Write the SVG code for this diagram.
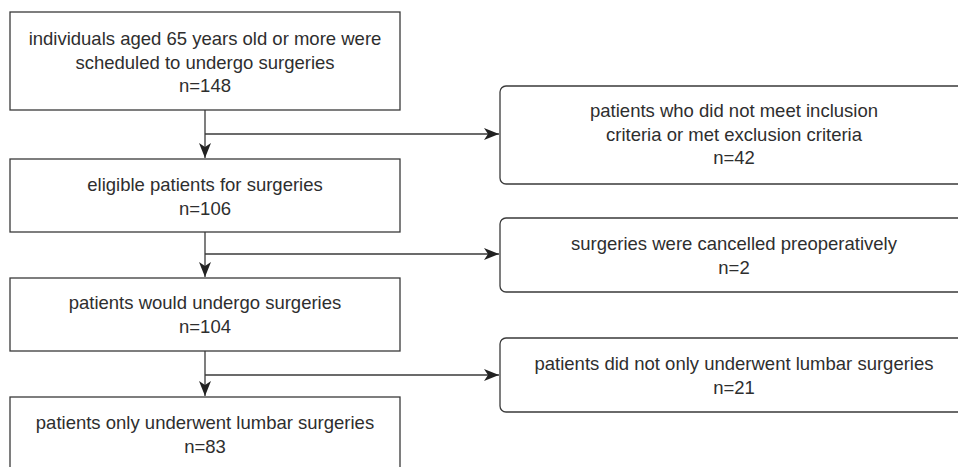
<svg xmlns="http://www.w3.org/2000/svg" width="958" height="467" viewBox="0 0 958 467">
<style>
.box{fill:#fff;stroke:#3a3a3a;stroke-width:1.3}
.t{font-family:"Liberation Sans",Arial,sans-serif;font-size:18.5px;fill:#2e2e2e;text-anchor:middle}
.c{fill:none;stroke:#3a3a3a;stroke-width:1.3}
</style>
<defs>
<marker id="arr" markerUnits="userSpaceOnUse" markerWidth="16" markerHeight="12" refX="15" refY="6" orient="auto">
<path d="M0,0 L15,6 L0,12 L4,6 z" fill="#222"/>
</marker>
</defs>
<rect width="958" height="467" fill="#fff"/>
<g id="connectors">
<path class="c" d="M205,110 V158" marker-end="url(#arr)"/>
<path class="c" d="M205,134 H499" marker-end="url(#arr)"/>
<path class="c" d="M205,232 V277" marker-end="url(#arr)"/>
<path class="c" d="M205,254 H499" marker-end="url(#arr)"/>
<path class="c" d="M205,351 V396" marker-end="url(#arr)"/>
<path class="c" d="M205,375 H499" marker-end="url(#arr)"/>
</g>
<g id="n1">
<rect class="box" x="10" y="12" width="390" height="98"/>
<text class="t" x="205" y="45">individuals aged 65 years old or more were</text>
<text class="t" x="205" y="68.5">scheduled to undergo surgeries</text>
<text class="t" x="205" y="92">n=148</text>
</g>
<g id="n2">
<rect class="box" x="10" y="159" width="390" height="73"/>
<text class="t" x="205" y="191">eligible patients for surgeries</text>
<text class="t" x="205" y="215">n=106</text>
</g>
<g id="n3">
<rect class="box" x="10" y="278" width="390" height="73"/>
<text class="t" x="205" y="308.5">patients would undergo surgeries</text>
<text class="t" x="205" y="333">n=104</text>
</g>
<g id="n4">
<rect class="box" x="10" y="397" width="390" height="90"/>
<text class="t" x="205" y="428.5">patients only underwent lumbar surgeries</text>
<text class="t" x="205" y="452.5">n=83</text>
</g>
<g id="r1">
<rect class="box" x="500" y="86" width="470" height="98" rx="6"/>
<text class="t" x="734" y="117">patients who did not meet inclusion</text>
<text class="t" x="734" y="140.5">criteria or met exclusion criteria</text>
<text class="t" x="734" y="164">n=42</text>
</g>
<g id="r2">
<rect class="box" x="500" y="218" width="470" height="74" rx="6"/>
<text class="t" x="734" y="250">surgeries were cancelled preoperatively</text>
<text class="t" x="734" y="274">n=2</text>
</g>
<g id="r3">
<rect class="box" x="500" y="338" width="470" height="74" rx="6"/>
<text class="t" x="734" y="370">patients did not only underwent lumbar surgeries</text>
<text class="t" x="734" y="393.5">n=21</text>
</g>
</svg>
